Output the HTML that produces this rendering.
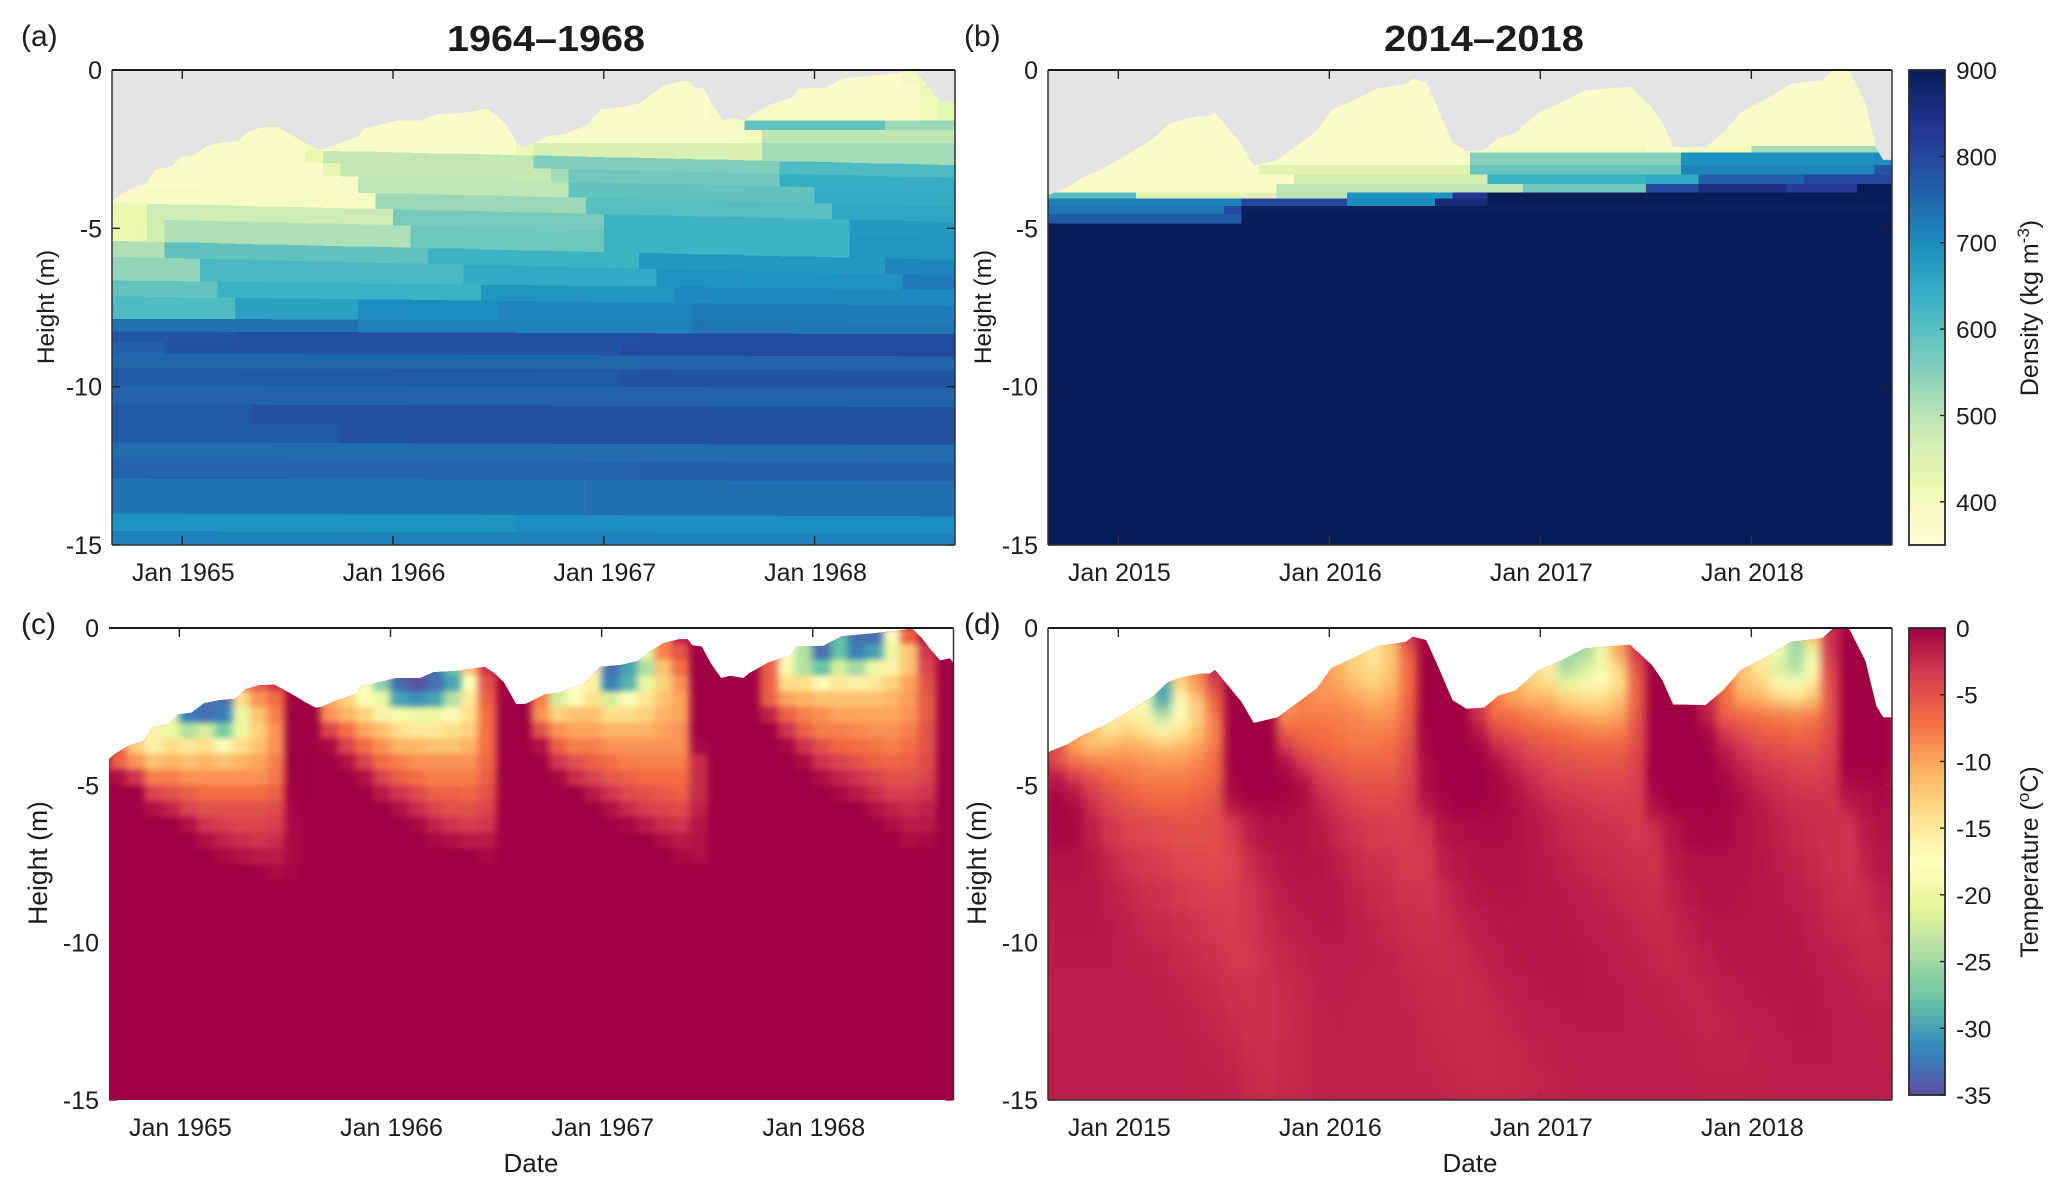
<!DOCTYPE html>
<html lang="en">
<head>
<meta charset="utf-8">
<title>Firn density and temperature 1964–1968 and 2014–2018</title>
<style>
html,body{margin:0;padding:0;background:#fff;width:2067px;height:1196px;overflow:hidden}
svg{display:block}
text{font-family:"Liberation Sans",sans-serif;fill:#1c1c1c}
</style>
</head>
<body>
<svg id="figure" xmlns="http://www.w3.org/2000/svg" width="2067" height="1196" viewBox="0 0 2067 1196">
  <defs>
    <filter id="smooth-c" x="-3%" y="-3%" width="106%" height="106%" color-interpolation-filters="sRGB">
      <feGaussianBlur stdDeviation="4 3"/>
    </filter>
    <filter id="smooth-d" x="-3%" y="-3%" width="106%" height="106%" color-interpolation-filters="sRGB">
      <feGaussianBlur stdDeviation="5 7"/>
    </filter>
  </defs>
  <text x="546" y="51" font-size="36" font-weight="700" text-anchor="middle" textLength="198" lengthAdjust="spacingAndGlyphs">1964–1968</text>
  <text x="1484" y="51" font-size="36" font-weight="700" text-anchor="middle" textLength="200" lengthAdjust="spacingAndGlyphs">2014–2018</text>
  <text x="21" y="46" font-size="30">(a)</text>
  <text x="964" y="46" font-size="30">(b)</text>
  <text x="21" y="634" font-size="30">(c)</text>
  <text x="964" y="634" font-size="30">(d)</text>
  <text transform="translate(54,307) rotate(-90)" font-size="24.5" text-anchor="middle">Height (m)</text>
  <text transform="translate(991,307) rotate(-90)" font-size="24.5" text-anchor="middle">Height (m)</text>
  <text transform="translate(47,863) rotate(-90)" font-size="26.5" text-anchor="middle">Height (m)</text>
  <text transform="translate(986,863) rotate(-90)" font-size="26.5" text-anchor="middle">Height (m)</text>
  <text x="531" y="1172" font-size="26" text-anchor="middle">Date</text>
  <text x="1470" y="1172" font-size="26" text-anchor="middle">Date</text>
  <text transform="translate(2038,308) rotate(-90)" font-size="25" text-anchor="middle">Density (kg m<tspan dy="-9" font-size="17">-3</tspan><tspan dy="9">)</tspan></text>
  <text transform="translate(2038,862) rotate(-90)" font-size="25" text-anchor="middle">Temperature (<tspan dy="-9" font-size="17">o</tspan><tspan dy="9">C)</tspan></text>
</svg>
<script>
// ---------- axis data ----------
const tickMonths = [4, 16, 28, 40];
const tickLabels1964 = ["Jan 1965", "Jan 1966", "Jan 1967", "Jan 1968"];
const tickLabels2014 = ["Jan 2015", "Jan 2016", "Jan 2017", "Jan 2018"];
const heightTicks = [0, -5, -10, -15];
const densityBarTicks = [900, 800, 700, 600, 500, 400];
const temperatureBarTicks = [0, -5, -10, -15, -20, -25, -30, -35];
const densityColors = ["#ffffd9","#edf8b1","#c7e9b4","#7fcdbb","#41b6c4","#1d91c0","#225ea8","#253494","#081d58"];
const temperatureColors = ["#9e0142","#d53e4f","#f46d43","#fdae61","#fee08b","#ffffbf","#e6f598","#abdda4","#66c2a5","#3288bd","#5e4fa2"];

// ---------- snow surface ----------
const surfaceMonths1964 = [0,.3,1.05,1.96,2.5,3.4,3.95,4.7,5.4,6.3,7.2,7.75,8.5,9.4,9.9,10.5,11.2,11.75,12.1,12.85,14.1,14.3,15.55,16.3,17.7,18.45,19.9,21.35,21.9,22.45,23.15,23.7,24.8,25.7,27,27.9,29.15,30.05,30.8,31.5,32.4,32.9,33.15,33.7,34.2,34.8,35.3,36.05,36.4,37.5,38.75,39.1,40.6,41.65,43.5,44.55,45.65,46.2,46.7,47.25,47.8,48];
const surfaceHeights1964 = [-4.16,-4.01,-3.76,-3.58,-3.15,-3.05,-2.74,-2.69,-2.39,-2.29,-2.25,-1.95,-1.82,-1.8,-1.95,-2.14,-2.37,-2.53,-2.5,-2.32,-2.08,-1.86,-1.7,-1.59,-1.59,-1.4,-1.36,-1.23,-1.43,-1.73,-2.42,-2.41,-2.1,-2.04,-1.76,-1.24,-1.17,-1.05,-.73,-.48,-.36,-.36,-.55,-.59,-1.12,-1.59,-1.52,-1.59,-1.43,-1.09,-.87,-.59,-.57,-.26,-.17,-.1,-.02,-.32,-.69,-1.03,-.96,-1.12];
const surfaceMonths2014 = [0,1.1,1.9,3.15,4.55,6,6.8,7.6,8.6,9.2,9.5,10,11,11.7,13.05,14.25,15.3,16.1,17.3,18.75,20.35,20.75,21.5,22.2,23,23.8,24.8,25.6,26.6,27.85,29.3,30.5,31.9,33.1,34.35,34.95,35.55,37.4,38.4,39.4,41,42.25,44.05,44.65,45.55,46.5,47.1,47.5,48];
const surfaceHeights2014 = [-3.95,-3.7,-3.43,-3.11,-2.66,-2.16,-1.73,-1.57,-1.46,-1.45,-1.33,-1.67,-2.35,-3.02,-2.84,-2.35,-1.92,-1.28,-.97,-.58,-.44,-.28,-.38,-1.24,-2.29,-2.57,-2.53,-2.16,-1.98,-1.36,-1,-.65,-.58,-.53,-1.18,-1.67,-2.43,-2.45,-1.98,-1.34,-.87,-.44,-.32,-.01,-.01,-1.06,-2.47,-2.84,-2.84];

// ---------- density, one row per layer, one value per month ----------
const densityEdges1964 = [0,-.5,-1,-1.6,-1.9,-2.3,-2.7,-3.1,-3.5,-4,-4.5,-5,-5.7,-6.2,-6.8,-7.3,-7.9,-8.3,-8.65,-9,-9.45,-10,-10.6,-11.2,-11.8,-12.35,-12.95,-14.05,-14.6,-15];
const densityRows1964 = [
[375,375,375,375,375,375,375,375,375,375,375,375,375,375,375,375,375,375,375,375,375,375,375,375,375,375,375,375,375,375,375,375,375,375,375,375,375,375,375,375,375,375,375,375,375,395,395,395],
[375,375,375,375,375,375,375,375,375,375,375,375,375,375,375,375,375,375,375,375,375,375,375,375,375,375,375,375,375,375,375,375,375,375,378,378,378,378,378,378,378,378,378,378,378,378,415,415],
[375,375,375,375,375,375,375,375,375,375,375,375,375,375,375,375,375,375,375,375,375,375,375,375,375,375,375,375,375,375,375,375,375,375,385,385,385,385,385,385,385,385,385,385,385,385,405,430],
[380,380,380,380,380,380,380,380,380,380,380,380,380,380,380,380,380,380,380,380,380,380,380,380,380,380,380,380,380,380,380,380,380,380,380,390,590,590,590,590,590,590,590,590,530,530,530,530],
[378,378,378,378,378,378,378,378,378,378,378,378,378,378,378,378,378,378,378,378,378,378,378,380,380,380,380,380,380,380,380,380,380,380,380,390,400,495,495,495,495,495,495,495,495,495,495,495],
[378,378,378,378,378,378,378,378,378,378,378,400,378,378,378,378,378,378,378,378,378,378,378,420,455,455,455,455,455,455,455,455,455,455,455,455,455,520,520,520,520,520,520,520,520,520,520,520],
[380,380,380,380,380,380,380,380,380,380,380,420,490,490,490,490,490,490,490,490,490,490,490,490,555,555,555,555,555,555,555,555,555,555,555,555,555,555,610,610,610,610,610,610,610,610,610,610],
[380,380,380,380,380,380,380,380,380,380,380,380,430,490,490,490,490,490,490,490,490,490,490,490,490,520,570,570,570,570,570,570,570,570,570,570,570,570,640,640,640,640,640,640,640,640,640,640],
[380,380,380,380,380,380,380,380,380,380,380,380,380,380,495,495,495,495,495,495,495,495,495,495,495,495,590,590,590,590,590,590,590,590,590,590,590,590,590,590,645,645,645,645,645,645,645,645],
[385,385,385,385,385,385,385,385,385,385,385,385,385,385,385,530,530,530,530,530,530,530,530,530,530,530,530,600,600,600,600,600,600,600,600,600,600,600,600,600,600,655,655,655,655,655,655,655],
[420,420,475,475,475,475,475,475,475,475,475,475,475,475,475,475,565,565,565,565,565,565,565,565,565,565,565,565,630,630,630,630,630,630,630,630,630,630,630,630,630,630,680,680,680,680,680,680],
[415,425,470,510,510,510,510,510,510,510,510,510,510,510,510,510,510,575,575,575,575,575,575,575,575,575,575,575,630,630,630,630,630,630,630,630,630,630,630,630,630,630,685,685,685,685,685,685],
[510,510,510,590,590,590,590,590,590,590,590,590,590,590,590,590,590,590,630,630,630,630,630,630,630,630,630,630,630,630,680,680,680,680,680,680,680,680,680,680,680,680,680,680,710,710,710,710],
[540,540,540,540,540,615,615,615,615,615,615,615,615,615,615,615,615,615,615,615,650,650,650,650,650,650,650,650,650,650,650,690,690,690,690,690,690,690,690,690,690,690,690,690,690,725,725,725],
[585,585,585,585,585,585,635,635,635,635,635,635,635,635,635,635,635,635,635,635,635,685,685,685,685,685,685,685,685,685,685,685,705,705,705,705,705,705,705,705,705,705,705,705,705,705,705,705],
[610,610,610,610,610,610,610,665,665,665,665,665,665,665,700,700,700,700,700,700,700,700,708,708,708,708,708,708,708,708,708,708,708,722,722,722,722,722,722,722,722,722,722,722,722,722,722,722],
[735,735,735,735,735,735,735,735,735,735,735,735,735,735,715,715,715,715,715,715,715,715,715,715,715,715,715,715,715,715,715,715,715,730,730,730,730,730,730,730,730,730,730,730,730,730,730,730],
[775,775,775,775,775,775,775,785,785,785,785,785,785,785,785,785,785,785,785,785,785,785,785,785,785,785,785,785,785,785,795,795,795,795,795,795,795,795,795,795,795,795,795,795,795,795,795,795],
[760,760,760,780,780,780,780,780,780,780,780,780,780,780,780,780,780,780,780,780,780,780,780,780,780,780,780,780,780,795,795,795,795,795,795,795,795,795,795,795,795,795,795,795,795,795,795,795],
[750,750,750,750,750,750,750,750,750,750,750,750,750,750,750,750,750,750,750,750,750,750,750,750,750,750,750,750,750,750,755,755,755,755,755,755,755,755,755,755,755,755,755,755,755,755,755,755],
[770,770,770,770,770,770,770,770,770,770,770,770,770,770,770,770,770,770,770,770,770,770,770,770,770,770,770,770,770,780,780,780,780,780,780,780,780,780,780,780,780,780,780,780,780,780,780,780],
[755,755,755,755,755,755,755,755,755,755,755,755,755,755,755,755,755,755,755,755,755,755,755,755,755,755,755,755,755,755,755,755,755,755,755,755,755,755,755,755,755,755,755,755,755,755,755,755],
[770,770,770,770,770,770,770,770,785,785,785,785,785,785,785,785,785,785,785,785,785,785,785,785,785,785,785,785,785,785,785,785,785,785,785,785,785,785,785,785,785,785,785,785,785,785,785,785],
[770,770,770,770,770,770,770,770,770,770,770,770,770,785,785,785,785,785,785,785,785,785,785,785,785,785,785,785,785,785,785,785,785,785,785,785,785,785,785,785,785,785,785,785,785,785,785,785],
[745,745,745,745,745,745,745,745,745,745,745,745,745,745,745,745,745,745,745,745,745,745,745,745,745,745,745,745,745,745,745,745,745,745,745,745,745,745,745,745,745,745,745,745,745,745,745,745],
[755,755,755,755,755,755,755,755,755,755,755,755,755,755,755,755,755,755,755,755,755,755,755,755,755,755,755,755,755,755,760,760,760,760,760,760,760,760,760,760,760,760,760,760,760,760,760,760],
[730,730,730,730,730,730,730,730,730,730,730,730,730,730,730,730,730,730,730,730,730,730,730,730,730,730,730,740,740,740,740,740,740,740,740,740,740,740,740,740,740,740,740,740,740,740,740,740],
[690,690,690,690,690,690,690,690,690,690,690,690,690,690,690,690,690,690,690,690,690,690,690,700,700,700,700,700,700,700,700,700,700,700,700,700,700,700,700,700,700,700,700,700,700,700,700,700],
[715,715,715,715,715,715,715,715,715,715,715,715,715,715,715,715,715,715,715,715,715,715,715,715,715,715,715,715,715,715,715,715,715,715,715,715,715,715,715,715,715,715,715,715,715,715,715,715]
];
const densityEdges2014 = [0,-1,-2,-2.4,-2.6,-3,-3.3,-3.6,-3.87,-4.05,-4.3,-4.55,-4.85,-15];
const densityRows2014 = [
[375,375,375,375,375,375,375,375,375,375,375,375,375,375,375,375,375,375,375,375,375,375,375,375,375,375,375,375,375,375,375,375,375,375,375,375,375,375,375,375,375,375,375,375,375,375,375,375],
[378,378,378,378,378,378,378,378,378,378,378,378,378,378,378,378,378,378,378,378,378,378,378,378,378,378,378,378,378,378,378,378,378,378,378,378,378,378,378,378,378,378,378,378,378,378,378,378],
[378,378,378,378,378,378,378,378,378,378,378,378,378,378,378,378,378,378,378,378,378,378,378,378,378,378,378,378,378,378,378,378,378,378,378,378,378,378,378,378,378,378,378,378,378,378,378,378],
[378,378,378,378,378,378,378,378,378,378,378,378,378,378,378,378,378,378,378,378,378,378,378,378,395,395,395,395,395,395,395,395,395,395,378,378,400,400,400,400,520,520,520,520,520,520,520,520],
[378,378,378,378,378,378,378,378,378,378,378,378,378,378,378,378,378,378,378,378,378,378,378,378,550,550,550,550,550,550,550,550,550,550,550,550,690,690,690,690,690,690,690,690,690,690,690,700],
[378,378,378,378,378,378,378,378,378,378,378,378,440,440,440,440,440,440,440,440,440,440,440,440,580,580,580,580,580,580,580,580,580,580,580,580,710,710,710,710,710,710,710,710,710,710,710,780],
[378,378,378,378,378,378,378,378,378,378,378,378,378,378,470,470,470,470,470,470,470,470,470,470,470,630,630,630,630,630,630,630,630,630,650,650,650,760,760,760,760,760,760,800,800,800,800,800],
[385,385,385,385,385,385,385,385,385,385,385,385,385,495,495,495,495,495,495,495,495,495,495,495,495,495,495,570,570,570,570,570,570,570,800,800,800,850,850,850,850,850,820,820,820,820,900,900],
[600,600,600,600,600,440,440,440,440,440,440,440,440,500,500,500,500,690,690,690,690,690,690,830,830,900,900,900,900,900,900,900,900,900,900,900,900,900,900,900,900,900,900,900,900,900,900,900],
[715,715,715,715,715,715,715,715,715,715,715,800,800,800,800,800,800,700,700,700,700,700,860,860,860,900,900,900,900,900,900,900,900,900,900,900,900,900,900,900,900,900,900,900,900,900,900,900],
[730,730,730,730,730,730,730,730,730,730,800,895,895,895,895,895,895,895,895,895,895,895,895,895,895,895,895,895,895,895,895,895,895,895,895,895,895,895,895,895,895,895,895,895,895,895,895,895],
[770,770,770,770,770,770,770,770,770,770,770,900,900,900,900,900,900,900,900,900,900,900,900,900,900,900,900,900,900,900,900,900,900,900,900,900,900,900,900,900,900,900,900,900,900,900,900,900],
[900,900,900,900,900,900,900,900,900,900,900,900,900,900,900,900,900,900,900,900,900,900,900,900,900,900,900,900,900,900,900,900,900,900,900,900,900,900,900,900,900,900,900,900,900,900,900,900]
];

// ---------- temperature, one array per month; each entry one depth bin from the top ----------
const temperatureEdges1964 = [0,-.5,-1,-1.5,-2,-2.5,-3,-3.5,-4,-4.5,-5,-5.5,-6,-6.5,-7,-7.5,-8];
const temperatureColumns1964 = [
[-6,-6,-6,-6,-6,-6,-6,-6,-6,-1],
[-13,-13,-13,-13,-13,-13,-13,-13,-9,-3],
[-16,-16,-16,-16,-16,-16,-16,-16,-12,-8,-4,-1],
[-20,-20,-20,-20,-20,-20,-20,-14,-11,-8,-5,-2],
[-32,-32,-32,-32,-32,-32,-24,-15,-12,-9,-6,-4,-1],
[-33,-33,-33,-33,-33,-33,-22,-14,-11,-9,-7,-5,-3,-1],
[-33,-33,-33,-33,-33,-32,-27,-17,-12,-9,-7,-5,-3.5,-2,-.5],
[-8,-8,-8,-8,-14,-20,-20,-14,-11,-9,-7,-5,-4,-2.5,-1],
[-6,-6,-6,-6,-9,-12,-13,-12,-10,-9,-7,-5,-4,-3,-1.5],
[-3,-3,-3,-3,-7,-8,-9,-9,-8,-7.5,-6,-4.5,-3.5,-2.5,-1.5,-.7],
[0,0,0,0,0,0,0,0,0,0,0,-.3,-.5,-.5,-.5,-.3],
[],
[-10,-10,-10,-10,-10,-9,-4,-.5],
[-13,-13,-13,-13,-13,-11,-7,-4,-1],
[-18,-18,-18,-18,-18,-13,-10,-7,-4,-1],
[-26,-26,-26,-26,-20,-16,-12,-9,-7,-4,-1.5],
[-33,-33,-33,-33,-30,-19,-14,-11,-8,-6,-3,-1],
[-35,-35,-35,-35,-31,-20,-15,-11,-9,-7,-4.5,-2.5,-.5],
[-33,-33,-33,-33,-30,-20,-15,-12,-9,-8,-6,-4,-2,-.5],
[-28,-28,-28,-30,-24,-17,-14,-12,-9,-8,-6,-5,-3,-1],
[-12,-12,-12,-18,-15,-14,-13,-11,-9,-8,-6.5,-5,-3.5,-1.5],
[-3,-3,-3,-5,-6,-7,-7,-7,-6.5,-6,-5,-4,-3,-1.5,-.5],
[],
[],
[-8,-8,-8,-8,-8,-9,-5,-1],
[-22,-22,-22,-22,-22,-13,-9,-6,-3,-.5],
[-18,-18,-18,-18,-18,-12,-10,-8,-5,-2.5],
[-16,-16,-16,-16,-14,-12,-10,-8,-6,-4,-1.5],
[-33,-33,-33,-32,-22,-14,-11,-9,-7,-5.5,-3,-1],
[-30,-30,-30,-29,-18,-14,-11,-9,-8,-6,-4.5,-2.5,-.5],
[-20,-20,-24,-20,-15,-13,-11,-9,-8,-7,-5,-3.5,-1.5],
[-8,-8,-12,-13,-12,-11,-10,-9,-8,-7,-5.5,-4,-2.5,-.8],
[-2,-5,-7,-9,-10,-10,-9,-9,-8,-7,-6,-4.5,-3,-1.5,-.5],
[0,0,0,0,0,0,0,-.5,-2.5,-2.5,-2.5,-2,-1.2,-1,-.8],
[],
[],
[],
[-6,-6,-6,-6,-6,-2],
[-17,-17,-17,-14,-10,-6,-3,-.5],
[-24,-24,-24,-14,-11,-8,-6,-3,-.8],
[-33,-33,-28,-17,-12,-9,-8,-5,-3,-.8],
[-28,-28,-22,-15,-12,-10,-8,-6.5,-4,-2,-.5],
[-33,-32,-25,-16,-12,-10,-8.5,-7,-5,-3,-1.5],
[-33,-30,-20,-15,-12,-10,-9,-7.5,-6,-4,-2.5,-1],
[-18,-20,-16,-13,-11,-10,-9,-8,-6.5,-5,-3.5,-2,-.8],
[-6,-12,-12,-10,-9.5,-9,-8,-7,-6,-5,-3.5,-2.5,-1.5,-.8],
[-1,-3,-4,-5,-5.5,-5.5,-5,-5,-4.5,-4,-3,-2,-1.5,-.5],
[],
[]
];
const temperatureEdges2014 = [0,-.5,-1,-1.5,-2,-2.5,-3,-3.5,-4,-4.5,-5,-5.5,-6,-7,-8,-9,-10,-11,-12,-13,-14,-15];
const temperatureColumns2014 = [
[-5,-5,-5,-5,-5,-5,-5,-5,-5,-1.5,-.5,-.2,-.3,-1,-1.2,-1.5,-1.6,-1.7,-1.7,-1.8,-1.8],
[-10,-10,-10,-10,-10,-10,-10,-10,-7,-3.5,-1.5,-.6,-.5,-1,-1.2,-1.5,-1.6,-1.7,-1.7,-1.8,-1.8],
[-12,-12,-12,-12,-12,-12,-12,-12,-8,-5,-3.5,-2.5,-1.8,-1.3,-1.4,-1.5,-1.6,-1.7,-1.7,-1.8,-1.8],
[-15,-15,-15,-15,-15,-15,-15,-11,-8.5,-6.5,-5,-4,-3,-2.2,-1.8,-1.6,-1.6,-1.7,-1.7,-1.8,-1.8],
[-16,-16,-16,-16,-16,-16,-13,-10.5,-8.5,-7.5,-6,-5,-3.8,-2.8,-2.2,-1.9,-1.7,-1.7,-1.7,-1.8,-1.8],
[-19,-19,-19,-19,-19,-19,-14.5,-11,-9,-8,-6.8,-5.5,-4.2,-3.3,-2.6,-2.2,-1.9,-1.8,-1.7,-1.8,-1.8],
[-30,-30,-30,-30,-30,-24,-17,-12,-9.5,-8,-7,-6,-4.5,-3.5,-2.9,-2.4,-2,-1.9,-1.8,-1.8,-1.8],
[-13,-13,-13,-13,-17,-18,-15,-11.5,-9.5,-8,-7,-6,-5,-4,-3.2,-2.7,-2.3,-2,-1.9,-1.8,-1.8],
[-9,-9,-9,-9,-12,-13,-12,-10,-8.5,-7.5,-6.5,-5.5,-5,-4.2,-3.5,-3,-2.5,-2.2,-2,-1.9,-1.9],
[-2,-2,-2,-4,-6,-7.5,-8,-7.5,-7,-6.5,-5.5,-5,-4.7,-4.3,-3.7,-3.2,-2.8,-2.4,-2.2,-2,-1.9],
[0,0,0,0,0,0,0,0,0,-.3,-.5,-1.5,-3.5,-4,-3.6,-3.5,-3.2,-2.8,-2.5,-2.2,-2],
[0,0,0,0,0,0,0,0,0,0,0,-.8,-1.8,-2.6,-3,-3,-3.2,-3,-2.8,-2.6,-2.4],
[0,0,0,0,0,0,0,0,0,0,0,-.5,-1,-1.8,-2.2,-2.4,-2.6,-2.8,-2.8,-2.7,-2.6],
[-9,-9,-9,-9,-9,-9,-6,-3.5,-1,-.3,-.2,-.6,-.8,-1.2,-1.6,-2,-2.2,-2.4,-2.5,-2.4,-2.3],
[-8,-8,-8,-8,-8,-8,-7,-5.5,-3.5,-1.5,-.6,-.8,-1,-1.1,-1.4,-1.7,-2,-2.1,-2.2,-2.2,-2.2],
[-9,-9,-9,-9,-9,-8,-7,-6.5,-5,-3.5,-2.5,-2,-1.5,-1.2,-1.3,-1.5,-1.7,-1.9,-2,-2,-2],
[-11,-11,-11,-10,-9,-8,-7.5,-7,-6,-4.5,-3.5,-3,-2.3,-1.7,-1.5,-1.5,-1.7,-1.8,-1.9,-2,-2],
[-13,-13,-13,-12,-10,-8.5,-8,-7.5,-6.5,-5.5,-4.5,-3.8,-3,-2.4,-2,-1.7,-1.8,-1.9,-2,-2,-2],
[-15,-15,-14,-13,-11,-9.5,-8,-7.5,-6.5,-5.5,-4.8,-4,-3.3,-2.8,-2.3,-2,-1.9,-2,-2,-2,-2],
[-12,-12,-12,-11.5,-10,-9,-8,-7,-6.3,-5.5,-4.7,-4,-3.5,-3,-2.6,-2.3,-2,-2,-2,-2,-2],
[-3,-6,-7,-7,-6.5,-6,-5.5,-5,-4.5,-4,-3.7,-3.5,-3.5,-3.3,-3,-2.6,-2.3,-2.1,-2,-2,-2],
[0,0,0,0,0,0,-.2,-.2,-.8,-.8,-1,-1.5,-3,-3.3,-3,-2.8,-2.5,-2.3,-2.2,-2.1,-2],
[0,0,0,0,0,0,0,0,0,0,-.3,-.5,-1.2,-1.8,-2.4,-2.6,-2.6,-2.4,-2.3,-2.2,-2.1],
[0,0,0,0,0,0,0,0,0,0,0,0,-.8,-1.3,-1.7,-2.1,-2.4,-2.5,-2.4,-2.3,-2.2],
[-3,-3,-3,-3,-3,-3,-1.5,-.4,0,0,0,-.3,-.7,-1,-1.3,-1.7,-2,-2.3,-2.4,-2.4,-2.3],
[-8,-8,-8,-8,-8,-7,-4.5,-2.5,-1,-.4,-.3,-.5,-.7,-.9,-1.1,-1.5,-1.7,-2,-2.2,-2.3,-2.3],
[-10,-10,-10,-10,-10,-7,-5.5,-3.5,-2.5,-1.5,-1,-.8,-.8,-1,-1.1,-1.3,-1.5,-1.8,-2,-2.2,-2.2],
[-13,-13,-13,-13,-11,-8,-6.5,-5,-3.5,-2.5,-2,-1.5,-1.3,-1.2,-1.2,-1.3,-1.4,-1.6,-1.8,-2,-2.1],
[-16,-16,-16,-14,-11,-9,-7,-5.5,-4.5,-3.5,-2.8,-2.2,-1.9,-1.6,-1.4,-1.3,-1.4,-1.5,-1.7,-1.9,-2],
[-25,-25,-25,-20,-13,-10,-7.5,-6,-5,-4,-3.3,-2.7,-2.3,-1.9,-1.6,-1.5,-1.4,-1.5,-1.6,-1.8,-1.9],
[-25,-25,-22,-19,-14,-10.5,-8,-6.5,-5.3,-4.3,-3.5,-3,-2.6,-2.2,-1.8,-1.6,-1.5,-1.5,-1.6,-1.7,-1.8],
[-20,-20,-19,-17,-14,-11,-8.5,-6.5,-5.5,-4.5,-3.7,-3.2,-2.8,-2.4,-2,-1.8,-1.6,-1.6,-1.6,-1.7,-1.8],
[-10,-10,-13,-14,-12,-10,-8,-6.5,-5.3,-4.5,-3.8,-3.3,-2.9,-2.6,-2.2,-1.9,-1.7,-1.6,-1.6,-1.7,-1.8],
[-3,-3,-5,-6,-6,-5.5,-5,-4.5,-4,-3.7,-3.5,-3.3,-3.2,-2.8,-2.4,-2.1,-1.9,-1.8,-1.7,-1.7,-1.7],
[0,0,0,0,0,0,0,0,0,0,-.5,-1,-2.6,-2.9,-2.6,-2.3,-2.1,-1.9,-1.8,-1.8,-1.8],
[0,0,0,0,0,0,0,0,0,0,0,-.3,-1.2,-1.6,-2,-2.2,-2.2,-2,-1.9,-1.8,-1.8],
[0,0,0,0,0,0,0,0,0,0,0,-.2,-.5,-1,-1.3,-1.8,-2,-2.1,-2,-1.9,-1.8],
[-2,-2,-2,-2,-2,-2,-.6,-.2,0,0,0,-.2,-.4,-.8,-1,-1.3,-1.7,-2,-2.1,-2,-1.9],
[-7,-7,-7,-7,-7,-6,-3.5,-2,-1,-.5,-.3,-.3,-.5,-.8,-1,-1.2,-1.5,-1.8,-2,-2,-1.9],
[-12,-12,-12,-12,-10,-7,-5,-3.3,-2.4,-1.5,-1,-.8,-.8,-1,-1.1,-1.2,-1.3,-1.6,-1.8,-2,-1.9],
[-15,-15,-15,-13,-11,-7.5,-6,-4.5,-3.3,-2.5,-1.9,-1.5,-1.3,-1.3,-1.3,-1.3,-1.4,-1.5,-1.7,-1.8,-1.9],
[-18,-18,-22,-17,-13,-8,-6.5,-5,-3.8,-3,-2.5,-2.1,-1.9,-1.6,-1.5,-1.4,-1.4,-1.5,-1.6,-1.8,-1.8],
[-25,-25,-24,-18,-14,-8.5,-7,-5.5,-4.2,-3.5,-2.9,-2.5,-2.3,-2,-1.7,-1.5,-1.4,-1.5,-1.5,-1.6,-1.7],
[-12,-20,-18,-15,-12,-8,-6.5,-5.5,-4.3,-3.7,-3.1,-2.7,-2.6,-2.3,-2,-1.8,-1.6,-1.5,-1.5,-1.6,-1.7],
[-3,-3,-4,-4.5,-5,-5,-4.5,-4,-3.5,-3.2,-3,-2.9,-2.8,-2.7,-2.4,-2.1,-1.8,-1.7,-1.6,-1.6,-1.7],
[0,0,0,0,0,0,0,0,0,-.5,-1,-2,-3,-3,-2.7,-2.3,-2,-1.8,-1.7,-1.7,-1.7],
[0,0,0,0,0,0,0,0,-.2,-.3,-.8,-1,-1.6,-2,-2.5,-2.6,-2.3,-2,-1.8,-1.7,-1.7],
[0,0,0,0,0,0,0,0,0,-.3,-.6,-.7,-1,-1.3,-1.8,-2.2,-2.3,-2.1,-1.9,-1.8,-1.7]
];

// ---------- helpers ----------
const SVG_NS = "http://www.w3.org/2000/svg";
const figure = document.getElementById("figure");
const defs = figure.querySelector("defs");
const MONTHS = 48;
const HEIGHT_SPAN = 15;

function make(tag, parent) {
  const el = document.createElementNS(SVG_NS, tag);
  parent.appendChild(el);
  return el;
}
function xScale(p, month) { return p.left + month / MONTHS * (p.right - p.left); }
function yScale(p, height) { return p.top + (-height) / HEIGHT_SPAN * (p.bottom - p.top); }
function hexToRgb(h) { return [parseInt(h.substr(1,2),16), parseInt(h.substr(3,2),16), parseInt(h.substr(5,2),16)]; }
function ramp(stops, t) {
  t = Math.max(0, Math.min(1, t));
  const f = t * (stops.length - 1);
  const i = Math.min(stops.length - 2, Math.floor(f));
  const a = hexToRgb(stops[i]);
  const b = hexToRgb(stops[i + 1]);
  const u = f - i;
  return "rgb(" + a.map(function (v, k) { return Math.round(v + (b[k] - v) * u); }).join(",") + ")";
}
function densityColor(v) { return ramp(densityColors, (v - 350) / 550); }
function temperatureColor(v) { return ramp(temperatureColors, -v / 35); }

// Buried layers sink slowly with time in the 1964-68 record: px of drop per month, by depth.
function layerSink(topHeight) {
  if (topHeight > -2.5) return 0;
  if (topHeight > -6.5) return 0.4;
  if (topHeight > -7.8) return 0.2;
  return 0.06;
}

function addClip(id, p, months, heights) {
  const clip = make("clipPath", defs);
  clip.setAttribute("id", id);
  const poly = make("polygon", clip);
  const pts = months.map(function (m, i) { return xScale(p, m).toFixed(1) + "," + yScale(p, heights[i]).toFixed(1); });
  pts.push(p.right + "," + p.bottom);
  pts.push(p.left + "," + p.bottom);
  poly.setAttribute("points", pts.join(" "));
}
function addCell(parent, p, month, topH, bottomH, color, name, sink) {
  const r = make("rect", parent);
  
  
  const shift = sink ? (month + 0.5 - MONTHS / 2) * sink(topH) : 0;
  const x0 = xScale(p, month);
  const x1 = xScale(p, month + 1);
  const y0 = yScale(p, topH) + shift;
  const y1 = yScale(p, bottomH) + shift;
  const pad = sink ? 16 : 0.6;
  r.setAttribute("x", x0.toFixed(2));
  r.setAttribute("y", y0.toFixed(2));
  r.setAttribute("width", (x1 - x0 + 0.6).toFixed(2));
  r.setAttribute("height", (y1 - y0 + pad).toFixed(2));
  r.setAttribute("fill", color);
}
function line(parent, x1, y1, x2, y2, color, w, name) {
  const l = make("line", parent);
  
  
  l.setAttribute("x1", x1);
  l.setAttribute("y1", y1);
  l.setAttribute("x2", x2);
  l.setAttribute("y2", y2);
  l.setAttribute("stroke", color);
  l.setAttribute("stroke-width", w);
}
function label(parent, str, x, y, anchor, size, name) {
  const t = make("text", parent);
  
  
  t.setAttribute("x", x);
  t.setAttribute("y", y);
  t.setAttribute("text-anchor", anchor);
  t.setAttribute("font-size", size);
  t.textContent = str;
}
function drawAxes(p, tickNames) {
  const g = make("g", figure);
  
  
  tickMonths.forEach(function (m, i) {
    const x = xScale(p, m);
    line(g, x, p.top, x, p.top + 9, "#222", 1.4, "x-tick");
    line(g, x, p.bottom, x, p.bottom - 9, p.tickBottom, 1.4, "x-tick");
    label(g, tickNames[i], x + 1, p.bottom + 36, "middle", 25, "x-tick-label");
  });
  heightTicks.forEach(function (h) {
    const y = yScale(p, h);
    line(g, p.left, y, p.left + 8, y, p.tickSide, 1.4, "y-tick");
    line(g, p.right, y, p.right - 8, y, p.tickSide, 1.4, "y-tick");
    label(g, String(h), p.left - 10, y + 9, "end", 25, "y-tick-label");
  });
  line(g, p.left, p.top, p.right, p.top, "#1a1a1a", 2, "plot-top-edge");
  if (p.frameAll) {
    line(g, p.left, p.bottom, p.right, p.bottom, "#333", 1.5, "plot-bottom-edge");
    line(g, p.left, p.top, p.left, p.bottom, "#333", 1.5, "plot-left-edge");
  }
  line(g, p.right, p.top, p.right, p.bottom, "#333", 1.5, "plot-right-edge");
}
function drawRows(p, clipId, edges, rows, colorFn, cellName, sink) {
  const g = make("g", figure);
  
  
  g.setAttribute("clip-path", "url(#" + clipId + ")");
  g.setAttribute("shape-rendering", "crispEdges");
  rows.forEach(function (row, r) {
    row.forEach(function (v, m) {
      addCell(g, p, m, edges[r], edges[r + 1], colorFn(v), cellName, sink);
    });
  });
}
function drawColumns(p, clipId, filterId, edges, columns, colorFn, cellName) {
  const outer = make("g", figure);
  
  
  outer.setAttribute("clip-path", "url(#" + clipId + ")");
  const base = make("rect", outer);
  
  
  base.setAttribute("x", p.left);
  base.setAttribute("y", p.top);
  base.setAttribute("width", p.right - p.left);
  base.setAttribute("height", p.bottom - p.top);
  base.setAttribute("fill", colorFn(p.baseValue));
  const inner = make("g", outer);
  
  
  inner.setAttribute("filter", "url(#" + filterId + ")");
  columns.forEach(function (col, m) {
    col.forEach(function (v, r) {
      addCell(inner, p, m, edges[r], edges[r + 1], colorFn(v), cellName, null);
    });
  });
}
function drawColorbar(b, stops, ticks, scale) {
  const grad = make("linearGradient", defs);
  grad.setAttribute("id", b.id + "-gradient");
  grad.setAttribute("x1", "0");
  grad.setAttribute("y1", b.flip ? "0" : "1");
  grad.setAttribute("x2", "0");
  grad.setAttribute("y2", b.flip ? "1" : "0");
  stops.forEach(function (c, i) {
    const s = make("stop", grad);
    s.setAttribute("offset", i / (stops.length - 1));
    s.setAttribute("stop-color", c);
  });
  const g = make("g", figure);
  
  
  const r = make("rect", g);
  
  
  r.setAttribute("x", b.left);
  r.setAttribute("y", b.top);
  r.setAttribute("width", b.right - b.left);
  r.setAttribute("height", b.bottom - b.top);
  r.setAttribute("fill", "url(#" + b.id + "-gradient)");
  r.setAttribute("stroke", "#2a2a2a");
  r.setAttribute("stroke-width", "1.8");
  ticks.forEach(function (v) {
    const y = scale(v);
    line(g, b.right, y, b.right - 5, y, "#222", 1.4, "colorbar-tick");
    label(g, String(v), 1956, y + 9, "start", 24.5, "colorbar-tick-label");
  });
}

// ---------- panels ----------
const panelA = { id: "panel-a", left: 112, right: 955, top: 70, bottom: 545, tickBottom: "#222", tickSide: "#222", frameAll: true };
const panelB = { id: "panel-b", left: 1048, right: 1892, top: 70, bottom: 545, tickBottom: "#333", tickSide: "#222", frameAll: true };
const panelC = { id: "panel-c", left: 109, right: 953.5, top: 628, bottom: 1100, tickBottom: "#9e0142", tickSide: "#9e0142", frameAll: false, baseValue: 0 };
const panelD = { id: "panel-d", left: 1048, right: 1892, top: 628, bottom: 1100, tickBottom: "#b61d4a", tickSide: "#b61d4a", frameAll: true, baseValue: -1.7 };

function background(p, color) {
  const r = make("rect", figure);
  
  
  r.setAttribute("x", p.left);
  r.setAttribute("y", p.top);
  r.setAttribute("width", p.right - p.left);
  r.setAttribute("height", p.bottom - p.top);
  r.setAttribute("fill", color);
}

addClip("clip-a", panelA, surfaceMonths1964, surfaceHeights1964);
addClip("clip-b", panelB, surfaceMonths2014, surfaceHeights2014);
addClip("clip-c", panelC, surfaceMonths1964, surfaceHeights1964);
addClip("clip-d", panelD, surfaceMonths2014, surfaceHeights2014);

background(panelA, "#e4e4e4");
background(panelB, "#e4e4e4");

drawRows(panelA, "clip-a", densityEdges1964, densityRows1964, densityColor, "density-cell", layerSink);
drawRows(panelB, "clip-b", densityEdges2014, densityRows2014, densityColor, "density-cell", null);
drawColumns(panelC, "clip-c", "smooth-c", temperatureEdges1964, temperatureColumns1964, temperatureColor, "temperature-cell");
drawColumns(panelD, "clip-d", "smooth-d", temperatureEdges2014, temperatureColumns2014, temperatureColor, "temperature-cell");

drawAxes(panelA, tickLabels1964);
drawAxes(panelB, tickLabels2014);
drawAxes(panelC, tickLabels1964);
drawAxes(panelD, tickLabels2014);

drawColorbar({ id: "density-colorbar", left: 1909, right: 1945, top: 70, bottom: 545, flip: false }, densityColors, densityBarTicks, function (v) { return 70 + (900 - v) / 550 * 475; });
drawColorbar({ id: "temperature-colorbar", left: 1909, right: 1945, top: 628, bottom: 1095, flip: true }, temperatureColors, temperatureBarTicks, function (v) { return 628 + (-v) / 35 * 467; });
</script>
</body>
</html>
